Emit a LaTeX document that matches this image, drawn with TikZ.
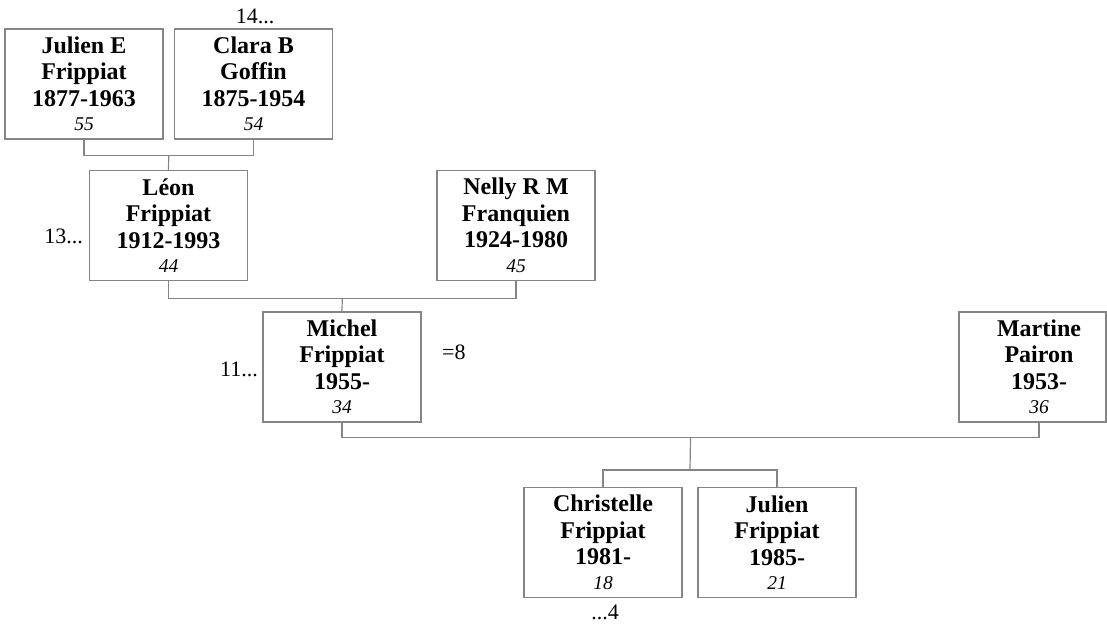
\documentclass[tikz,border=0pt]{standalone}
\usepackage{fontspec}
\setmainfont{Liberation Serif}
\usetikzlibrary{calc}
\definecolor{linegray}{HTML}{858585}
\newcommand{\agefont}{\fontsize{19.5}{22}\selectfont\mdseries\itshape}
\tikzset{
  person/.style={draw=linegray, line width=1.2pt, fill=white, minimum width=158pt, minimum height=110pt,
    inner sep=0pt, align=center, font=\bfseries\fontsize{24}{26.5}\selectfont},
  personbox/.style={draw=linegray, line width=1.2pt, fill=white, inner sep=0pt},
  persontext/.style={inner sep=0pt, align=center, font=\bfseries\fontsize{24}{26.5}\selectfont},
  link/.style={draw=linegray, line width=1.2pt},
  note/.style={inner sep=0pt, font=\fontsize{22}{24}\selectfont}
}
\begin{document}
\begin{tikzpicture}[x=1pt,y=-1pt]
\useasboundingbox (0,0) rectangle (1107,626);
% persons
\node[person] (julienE) at (84,84) {Julien E\\Frippiat\\1877-1963\\[-2pt]\agefont 55};
\node[person] (claraB) at (253.5,84) {Clara B\\Goffin\\1875-1954\\[-2pt]\agefont 54};
\node[person] (leon) at (168.5,225.5) {Léon\\Frippiat\\1912-1993\\[-2pt]\agefont 44};
\node[person] (nelly) at (516,225.5) {Nelly R M\\Franquien\\1924-1980\\[-2pt]\agefont 45};
\node[person] (michel) at (342,367) {Michel\\Frippiat\\1955-\\[-2pt]\agefont 34};
\node[personbox, minimum width=147pt, minimum height=110pt] (martinebox) at (1032.5,367) {};
\node[persontext] (martine) at (1039,367) {Martine\\Pairon\\1953-\\[-2pt]\agefont 36};
\node[person] (christelle) at (603,542.5) {Christelle\\Frippiat\\1981-\\[-2pt]\agefont 18};
\node[person] (julienF) at (777,542.5) {Julien\\Frippiat\\1985-\\[-2pt]\agefont 21};
% notes
\node[note, anchor=base] (n14) at (255,24) {14...};
\node[note, anchor=base east] (n13) at (83,243) {13...};
\node[note, anchor=base east] (n11) at (258,376) {11...};
\node[note, anchor=base west] (n8) at (442,359) {=8};
\node[note, anchor=base] (n4) at (605,619) {...4};
% connectors
\coordinate (martinebottom) at (martine |- martinebox.south);
\draw[link] (julienE.south) -- ++(0,16) -| (claraB.south);
\draw[link] ($(julienE.south)!0.5!(claraB.south)+(0,16)$) -- (leon.north);
\draw[link] (leon.south) -- ++(0,17) -| (nelly.south);
\draw[link] ($(leon.south)!0.5!(nelly.south)+(0,17)$) -- (michel.north);
\draw[link] (michel.south) -- ++(0,15) -| (martinebottom);
\draw[link] (christelle.north) -- ++(0,-17) -| (julienF.north);
\draw[link] ($(christelle.north)!0.5!(julienF.north)+(0,-17)$) -- ($(michel.south)!0.5!(martinebottom)+(0,15)$);
\end{tikzpicture}
\end{document}
